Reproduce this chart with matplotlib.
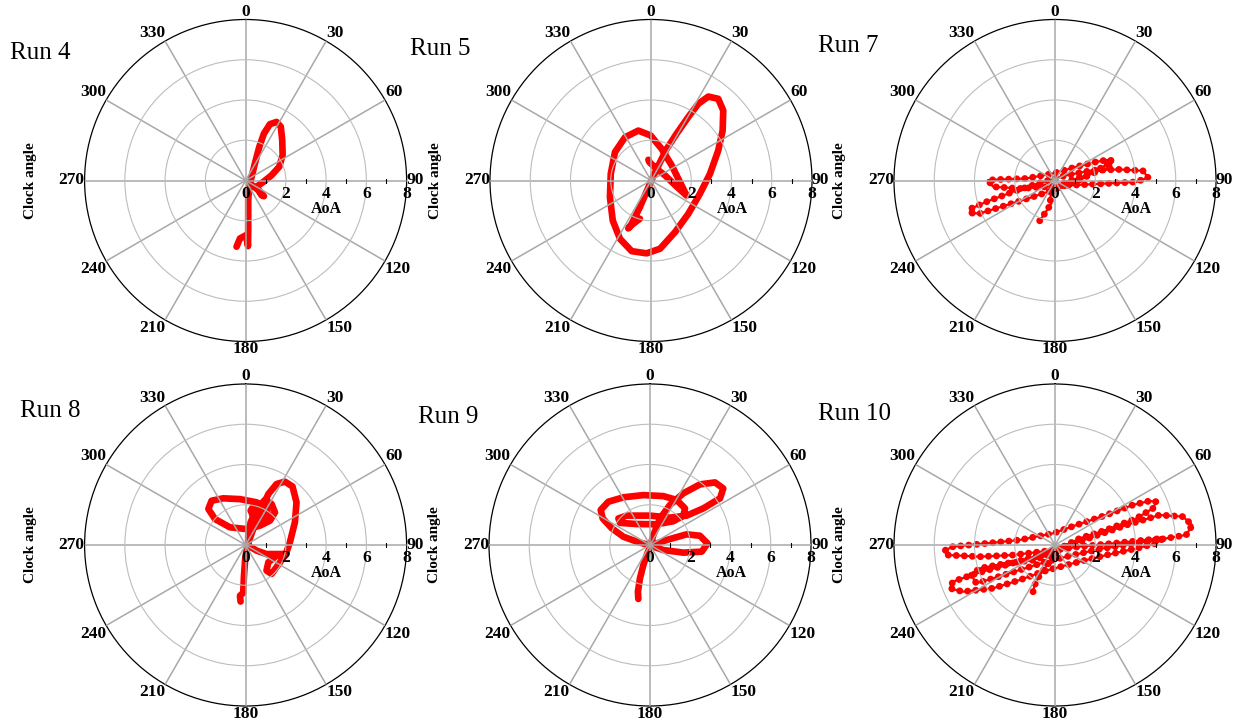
import numpy as np
import matplotlib.pyplot as plt
from matplotlib import transforms

plt.rcParams['font.family'] = ['Liberation Serif', 'DejaVu Serif']

# AoA components (deg): h points to clock angle 90, v to clock angle 0
run4_h = [-0.45, -0.28, 0.02, 0.12, 0.13, 0.13, 0.13, 0.18, 0.30, 0.46, 0.68, 0.91, 1.21,
          1.54, 1.75, 1.82, 1.84, 1.67, 1.29, 0.88, 0.55, 0.79, 0.91, 0.63, 0.22]
run4_v = [-3.29, -2.88, -2.72, -3.26, -2.47, -1.64, -0.98, -0.31, 0.18, 0.84, 1.67, 2.33, 2.80,
          2.91, 2.67, 2.00, 1.26, 0.68, 0.26, -0.07, -0.31, -0.73, -0.78, -0.48, -0.15]

run5_h = [-0.55, -0.95, -1.13, -0.96, -0.55, 0.03, 0.45, 0.78, 1.27, 1.85, 2.35, 2.85, 3.34, 3.59,
          3.56, 3.34, 2.93, 2.43, 1.85, 1.19, 0.45, -0.22, -0.96, -1.54, -1.90, -2.04, -2.00,
          -1.79, -1.29, -0.63, -0.02, 0.53, 1.03, 1.44, 1.77, 1.27, 0.70, 0.28, -0.08, -0.13]
run5_v = [-1.90, -2.20, -2.38, -2.15, -1.32, 0.03, 0.91, 1.57, 2.32, 3.15, 3.81, 4.17, 4.06, 3.48,
          2.48, 1.49, 0.33, -0.66, -1.66, -2.57, -3.39, -3.62, -3.51, -2.90, -1.99, -0.83, 0.33,
          1.41, 2.15, 2.48, 2.24, 1.57, 0.75, -0.08, -0.75, -0.30, 0.25, 0.58, 0.91, 1.03]

run7_h = [-0.76, -0.51, -0.18, -0.26, -0.10, 0.56, 1.56, 2.55, 2.88, 2.72, 2.05, 1.06, -0.10,
          -1.42, -2.75, -3.33, -3.08, -1.75, -0.43, 0.89, 2.55, 4.04, 4.62, 4.37, 3.21, 1.89,
          0.56, -0.76, -2.09, -3.41, -4.16, -4.24, -3.74, -2.42, -1.09, -0.10, 1.39, 2.38, 2.80]
run7_v = [-2.00, -1.64, -1.14, -0.89, -0.48, -0.07, 0.26, 0.60, 0.93, 1.04, 0.93, 0.68, 0.35,
          0.10, 0.05, 0.02, -0.31, -0.40, -0.31, -0.23, -0.15, -0.07, 0.15, 0.48, 0.55, 0.51,
          0.26, -0.12, -0.56, -1.06, -1.39, -1.61, -1.64, -1.23, -0.81, -0.48, 0.10, 0.68, 0.96]

run8_h = [-0.25, -0.28, -0.12, -0.08, -0.02, 0.08, 0.38, 0.79, 1.13, 1.54, 1.95, 2.33, 2.53,
          2.45, 2.20, 2.00, 1.71, 1.29, 1.04, 1.13, 1.54, 1.87, 1.04, 0.55, 0.13, 0.13, 0.25,
          0.55, 0.96, 1.29, 1.46, 1.21, 0.71, 0.05, -0.78, -1.52, -1.85, -1.69, -1.11, -0.28,
          0.55, 1.04, 1.13, 0.79, 0.38, 0.25, 0.46]
run8_v = [-2.81, -2.52, -2.38, -1.52, -0.70, -0.03, 0.79, 1.79, 2.53, 3.03, 3.15, 2.91, 2.12,
          1.13, 0.13, -0.45, -0.86, -1.44, -1.27, -0.86, -0.53, -0.45, -0.45, -0.28, -0.03, 0.46,
          1.13, 1.79, 2.24, 2.04, 1.62, 1.21, 0.96, 0.79, 0.88, 1.29, 1.79, 2.20, 2.32, 2.28,
          2.12, 1.79, 1.46, 1.29, 1.42, 1.71, 2.04]

run9_h = [-0.58, -0.60, -0.50, -0.33, -0.13, 0.03, 0.83, 1.82, 2.48, 2.86, 2.57, 1.66, 0.66,
          0.08, -0.66, -1.32, -1.90, -2.35, -2.45, -2.07, -1.32, -0.33, 0.66, 1.32, 1.74, 1.66,
          1.16, 0.33, -0.66, -1.49, -1.57, -1.16, 0.00, 0.99, 1.82, 2.65, 3.48, 3.64, 3.23, 2.48,
          1.66, 0.99, 0.50, 0.17, 0.03]
run9_v = [-2.68, -2.32, -1.66, -0.99, -0.41, -0.03, 0.25, 0.53, 0.46, 0.08, -0.33, -0.38, -0.25,
          -0.05, 0.17, 0.41, 0.83, 1.32, 1.74, 2.15, 2.37, 2.48, 2.43, 2.24, 1.82, 1.46, 1.18,
          1.03, 1.04, 1.10, 1.32, 1.46, 1.46, 1.36, 1.46, 1.82, 2.32, 2.81, 3.11, 3.01, 2.57,
          1.99, 1.32, 0.50, 0.02]

run10_h = [-1.09, -1.01, -0.76, -0.26, 0.23, 1.23, 2.55, 4.04, 4.87, 5.03, 4.70, 3.87, 2.55,
           1.06, -0.10, -1.75, -3.41, -5.07, -5.53, -5.31, -3.74, -2.09, -0.43, 1.23, 2.88,
           4.54, 5.36, 5.03, 4.04, 2.55, 0.89, -0.60, -1.75, -3.08, -4.57, -5.23, -5.07, -3.91,
           -2.42, -0.76, 0.56, 1.89, 3.54, 5.20, 6.36, 6.82, 6.52, 5.53, 4.04, 2.38, 0.89,
           -0.43, -1.75, -3.08, -3.91, -4.16, -3.74, -2.42, -1.09, 0.23]
run10_v = [-2.32, -1.99, -1.49, -0.83, -0.17, 0.33, 0.75, 1.32, 1.82, 2.15, 2.19, 1.99, 1.49,
           0.99, 0.58, 0.25, 0.08, -0.08, -0.30, -0.50, -0.58, -0.50, -0.30, -0.08, 0.08, 0.25,
           0.33, 0.08, -0.17, -0.50, -0.91, -1.32, -1.74, -2.15, -2.32, -2.15, -1.82, -1.41,
           -0.99, -0.50, -0.08, 0.41, 0.99, 1.49, 1.41, 0.99, 0.50, 0.33, 0.08, -0.17, -0.50,
           -0.83, -1.24, -1.66, -1.90, -1.49, -1.16, -0.91, -0.75, -0.33]

run_names = ['Run 4', 'Run 5', 'Run 7', 'Run 8', 'Run 9', 'Run 10']
clock_ticks = list(range(0, 360, 30))
aoa_ticks = [0, 2, 4, 6, 8]
aoa_minor = [1, 3, 5, 7]

W, H = 1243, 724
RAD = 161  # plot radius in pixels


def polar_panel(fig, cx, cy, h, v, name, title_x, title_y, beaded=False):
    ax = fig.add_axes([(cx - RAD) / W, (H - cy - RAD) / H, 2 * RAD / W, 2 * RAD / H],
                      projection='polar')
    ax.set_theta_zero_location('N')
    ax.set_theta_direction(-1)
    ax.set_ylim(0, 8)
    ax.set_xticks(np.radians(clock_ticks))
    ax.set_xticklabels([])
    ax.set_yticks([2, 4, 6])
    ax.set_yticklabels([])
    ax.tick_params(length=0)
    ax.xaxis.grid(True, color='#a8a8a8', lw=1.1)
    ax.yaxis.grid(True, color='#bdbdbd', lw=0.8)
    ax.spines['polar'].set_color('black')
    ax.spines['polar'].set_linewidth(0.9)
    ax.set_axisbelow(False)

    h = np.asarray(h)
    v = np.asarray(v)
    clock = np.arctan2(h, v)
    aoa = np.hypot(h, v)
    if beaded:
        ax.plot(clock, aoa, color='#ff0000', lw=1.6, zorder=2)
        ax.plot(clock, aoa, color='#ff0000', lw=5.0, ls=(0, (0.01, 1.15)),
                dash_capstyle='round', zorder=2)
    else:
        ax.plot(clock, aoa, color='#ff0000', lw=4.8, solid_joinstyle='round',
                solid_capstyle='round', zorder=2)

    # clock angle labels around the rim
    for t in clock_ticks:
        s, c = np.sin(np.radians(t)), np.cos(np.radians(t))
        ha = 'left' if s > 0.1 else ('right' if s < -0.1 else 'center')
        va = 'bottom' if c > 0.1 else ('top' if c < -0.1 else 'center')
        ax.text(np.radians(t), 8, str(t), ha=ha, va=va, fontsize=12.5,
                fontweight='bold', clip_on=False)

    # AoA scale along the 90 spoke
    below = transforms.offset_copy(ax.transData, fig=fig, x=0, y=-13, units='dots')
    for r in aoa_ticks:
        ax.text(np.pi / 2, r, str(r), transform=below, ha='center', va='center',
                fontsize=12.5, fontweight='bold', clip_on=False)
    ax.plot(np.full(len(aoa_minor), np.pi / 2), aoa_minor, ls='none', marker='|',
            ms=3, mew=0.8, color='black', zorder=3)

    ax.text(0.752, 0.413, 'AoA', transform=ax.transAxes, ha='center', va='center',
            fontsize=11.5, fontweight='bold')
    ax.text(-0.168, 0.5, 'Clock angle', transform=ax.transAxes, rotation=90,
            ha='center', va='center', fontsize=11, fontweight='bold')
    fig.text(title_x / W, 1 - title_y / H, name, ha='left', va='center', fontsize=18)
    return ax


fig = plt.figure(figsize=(W / 100, H / 100), dpi=100)

polar_panel(fig, 245.6, 180.5, run4_h, run4_v, run_names[0], 10, 53)
polar_panel(fig, 651, 180.5, run5_h, run5_v, run_names[1], 410, 49)
polar_panel(fig, 1055, 180.5, run7_h, run7_v, run_names[2], 818, 46, beaded=True)
polar_panel(fig, 245.6, 545, run8_h, run8_v, run_names[3], 20, 411)
polar_panel(fig, 650, 545, run9_h, run9_v, run_names[4], 418, 417)
polar_panel(fig, 1055, 545, run10_h, run10_v, run_names[5], 818, 414, beaded=True)

fig.savefig('out.png', dpi=100)
